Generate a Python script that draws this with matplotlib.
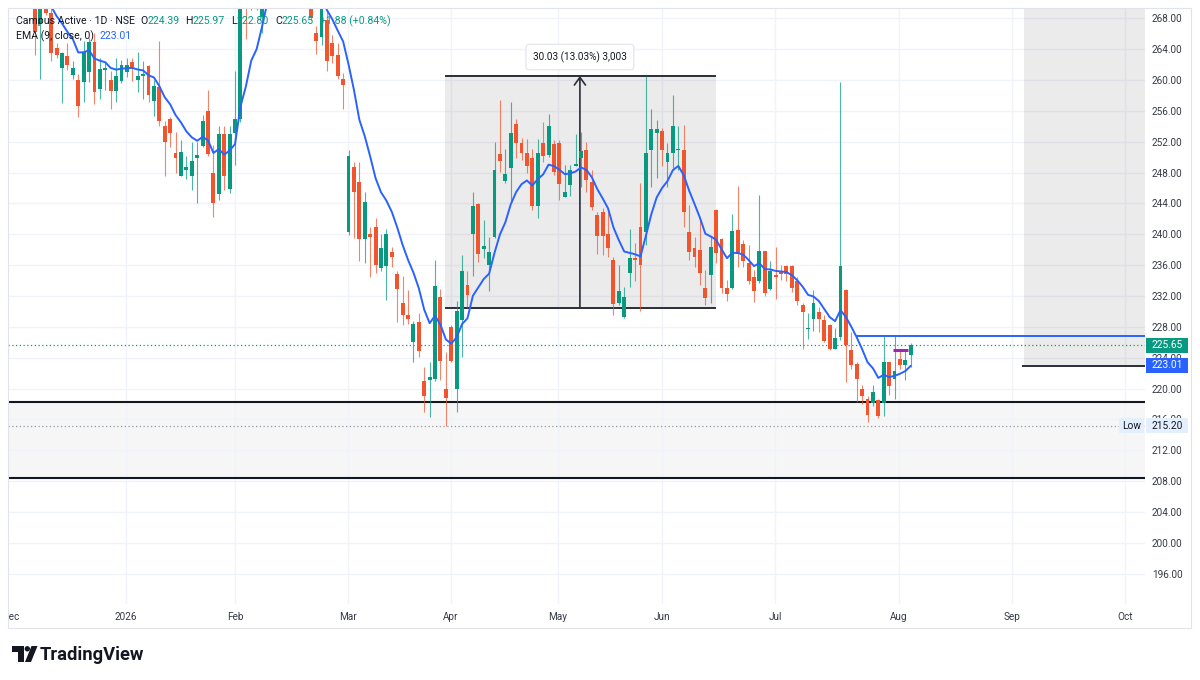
import matplotlib
matplotlib.use("Agg")
import matplotlib.pyplot as plt
import matplotlib.transforms as mtransforms
from matplotlib.patches import Rectangle, Polygon, Circle
import numpy as np
import pandas as pd

plt.rcParams['font.family'] = ['Roboto', 'DejaVu Sans']

# ---------------- data (daily OHLC, bar order) ----------------
n_hidden = 8  # earlier bars that sit above the visible window (seed the EMA)
opens = [273.0, 274.0, 275.0, 273.0, 274.0, 272.5, 273.5, 272.0,
         271.0, 267.3, 269.6, 268.7, 264.2, 261.5, 263.1, 260.7, 260.0, 259.7,
         261.0, 264.9, 258.8, 261.3, 260.0, 258.6, 259.9, 261.0, 262.3, 260.0,
         260.5, 261.8, 257.3, 259.1, 254.0, 254.9, 250.6, 247.6, 248.4, 247.6,
         249.9, 251.5, 256.0, 248.0, 245.2, 253.0, 245.9, 253.1, 254.9, 277.5,
         269.5, 276.0, 268.2, 279.0, 283.0, 281.0, 284.0, 280.0, 276.0, 273.0,
         271.5, 269.2, 266.1, 265.6, 267.8, 264.8, 263.3, 260.1, 240.3, 248.7,
         246.8, 239.4, 240.0, 241.0, 235.6, 235.9, 237.7, 234.9, 231.1, 229.5,
         226.0, 228.7, 221.0, 221.1, 221.3, 231.9, 219.9, 228.0, 219.9, 228.9,
         233.4, 240.0, 243.9, 238.1, 236.0, 239.7, 250.4, 246.9, 248.6, 254.3,
         251.9, 250.6, 249.9, 243.7, 251.9, 250.3, 251.7, 251.9, 244.9, 246.4,
         248.9, 249.9, 250.9, 246.8, 242.5, 242.9, 240.0, 236.7, 231.1, 229.3,
         235.0, 236.9, 240.9, 240.3, 250.9, 253.1, 253.4, 249.4, 250.6, 250.9,
         250.9, 240.3, 238.2, 238.0, 233.0, 234.7, 243.1, 239.4, 233.1, 233.1,
         240.6, 238.8, 236.3, 234.5, 233.9, 237.8, 232.9, 234.7, 235.2, 235.9,
         235.9, 234.0, 230.8, 227.7, 229.0, 229.9, 228.9, 228.3, 225.1, 226.7,
         232.8, 225.0, 223.2, 220.0, 218.7, 218.2, 218.5, 218.1, 223.5, 221.3,
         223.8, 223.0, 224.39]
highs = [275.5, 276.5, 276.0, 275.0, 274.5, 274.5, 274.0, 274.0,
         272.0, 272.0, 270.5, 269.6, 264.8, 263.6, 264.8, 262.5, 260.8, 265.0,
         265.4, 266.1, 262.8, 262.4, 261.2, 262.8, 262.6, 262.8, 262.8, 263.7,
         262.5, 262.0, 260.0, 265.1, 254.7, 255.2, 253.3, 252.2, 250.1, 252.0,
         252.0, 255.5, 258.7, 251.6, 254.0, 254.0, 254.0, 261.2, 277.5, 279.0,
         278.0, 278.0, 279.5, 285.0, 286.0, 287.0, 285.0, 281.5, 278.0, 275.0,
         273.0, 270.5, 267.0, 270.5, 269.1, 265.8, 264.8, 260.9, 250.9, 249.4,
         249.4, 245.5, 240.9, 242.1, 240.0, 240.7, 238.4, 235.2, 234.6, 232.8,
         228.8, 229.8, 222.8, 223.5, 236.7, 232.9, 224.8, 228.3, 231.4, 237.3,
         235.2, 245.5, 244.0, 241.9, 239.7, 252.0, 257.4, 251.1, 257.2, 254.9,
         252.5, 252.3, 251.1, 252.4, 254.6, 255.6, 252.2, 252.2, 249.0, 249.0,
         253.0, 253.3, 252.0, 248.3, 242.9, 243.4, 242.9, 237.0, 236.0, 233.2,
         240.7, 238.9, 246.7, 260.5, 256.2, 254.8, 253.8, 251.8, 258.1, 254.0,
         254.2, 243.8, 239.7, 241.9, 235.4, 239.7, 243.3, 239.5, 234.1, 242.7,
         246.3, 239.3, 238.6, 235.4, 245.1, 237.9, 236.5, 238.3, 236.0, 236.0,
         236.0, 234.5, 231.1, 229.8, 232.8, 230.6, 229.5, 228.4, 227.9, 259.7,
         232.9, 227.4, 223.5, 220.5, 219.0, 220.5, 218.6, 226.8, 223.5, 226.8,
         225.0, 225.0, 225.97]
lows = [272.0, 273.0, 272.0, 272.5, 271.5, 271.5, 271.0, 271.0,
        263.2, 260.1, 268.4, 262.5, 262.8, 257.0, 261.3, 260.1, 255.2, 257.2,
        259.8, 256.9, 257.5, 258.7, 256.2, 257.1, 259.6, 260.4, 259.9, 258.4,
        257.5, 257.1, 255.4, 254.0, 247.5, 251.3, 248.0, 247.5, 247.2, 245.7,
        244.0, 251.3, 250.2, 242.3, 244.5, 245.8, 245.3, 249.0, 254.5, 265.3,
        269.1, 269.1, 266.1, 278.0, 279.5, 280.0, 278.0, 275.0, 272.0, 271.0,
        270.6, 267.8, 263.4, 264.5, 261.2, 262.2, 260.1, 256.2, 239.9, 239.5,
        236.5, 236.3, 234.5, 235.0, 235.2, 231.5, 235.8, 228.6, 228.2, 228.4,
        223.5, 224.1, 217.0, 216.3, 221.0, 221.1, 215.2, 223.4, 217.0, 224.1,
        230.6, 234.6, 236.4, 236.9, 232.6, 239.5, 248.1, 246.6, 244.2, 249.9,
        249.6, 247.9, 243.2, 242.1, 249.4, 250.0, 247.7, 244.5, 244.8, 245.0,
        248.9, 246.2, 245.5, 243.2, 237.5, 237.3, 237.1, 229.5, 230.8, 229.2,
        233.2, 233.9, 230.1, 238.6, 246.2, 247.3, 248.8, 246.2, 248.6, 248.3,
        241.0, 236.7, 235.8, 233.4, 230.8, 231.1, 236.3, 232.4, 231.3, 232.9,
        235.8, 235.8, 233.5, 231.2, 233.7, 232.0, 232.8, 231.6, 234.1, 234.0,
        232.5, 230.8, 225.1, 226.4, 227.5, 227.4, 226.0, 225.0, 225.1, 226.3,
        220.9, 222.5, 218.3, 218.0, 215.7, 217.7, 216.2, 216.4, 219.2, 218.7,
        222.6, 221.1, 222.80]
closes = [274.0, 275.0, 273.0, 274.0, 272.5, 273.5, 272.0, 273.0,
          266.2, 270.8, 268.7, 263.5, 263.3, 263.5, 261.9, 261.5, 256.7, 263.7,
          264.9, 258.5, 261.4, 261.5, 258.6, 260.5, 261.9, 261.9, 261.7, 260.5,
          260.8, 258.1, 259.2, 254.7, 252.0, 253.2, 249.9, 250.7, 248.7, 249.5,
          250.3, 254.7, 250.4, 244.0, 253.0, 247.5, 253.0, 255.0, 276.0, 269.5,
          276.0, 270.0, 278.5, 283.0, 281.0, 284.0, 280.0, 276.0, 273.0, 271.5,
          270.8, 268.0, 265.1, 269.2, 262.5, 263.1, 260.5, 259.4, 250.1, 245.5,
          239.4, 244.2, 239.6, 236.0, 238.2, 240.0, 237.1, 232.9, 229.5, 229.0,
          228.4, 224.9, 219.1, 221.5, 233.3, 223.6, 218.8, 223.6, 230.0, 235.2,
          232.1, 243.7, 237.5, 238.5, 237.7, 248.4, 249.5, 247.8, 253.2, 251.9,
          250.6, 248.9, 243.7, 250.5, 250.2, 254.1, 248.1, 246.5, 245.5, 248.3,
          249.1, 250.8, 247.1, 243.6, 239.8, 239.8, 238.2, 231.0, 232.6, 231.9,
          236.9, 236.7, 236.0, 250.5, 253.7, 253.6, 250.9, 250.5, 254.0, 251.0,
          242.9, 237.7, 237.0, 235.0, 231.8, 238.3, 237.6, 233.1, 232.3, 240.4,
          237.5, 236.5, 233.9, 232.7, 237.8, 232.4, 235.3, 234.5, 234.9, 234.8,
          233.1, 231.4, 229.9, 227.9, 231.1, 229.0, 226.2, 225.1, 226.6, 235.9,
          225.7, 223.0, 221.2, 219.0, 216.6, 219.5, 216.4, 223.4, 220.3, 222.3,
          223.0, 223.7, 225.65]

month_labels = ['Dec', '2026', 'Feb', 'Mar', 'Apr', 'May', 'Jun', 'Jul', 'Aug', 'Sep', 'Oct']
month_pos = [-4.5, 16.83, 37.0, 57.9, 76.95, 96.7, 116.0, 136.9, 159.8, 180.7, 201.6]
price_ticks = list(range(196, 269, 4))

last_close = 225.65
ema_label_value = 223.01
low_value = 215.20
zone_top, zone_bottom = 218.3, 208.45
ray_level, ray_start = 226.86, 151.9
range_low, range_high = 230.50, 260.53
range_start, range_end, range_mid = 75.85, 126.0, 100.8
range_label = '30.03 (13.03%) 3,003'
range_label_y = 262.98
target_start, target_level = 182.9, 222.95
mark_level, mark_start, mark_end = 225.0, 158.7, 161.5

GREEN = '#089981'
RED = '#f2542d'
BLUE = '#2962ff'
DARK = '#131722'
AXTXT = '#363a45'
GRID = '#f0f3fa'
LINE = '#2a2e39'

# ---------------- figure ----------------
W, H = 1200, 680
fig = plt.figure(figsize=(W / 100, H / 100), dpi=100)
pl, pr, pt, pb = 8, 1145, 8, 604
ax = fig.add_axes([pl / W, 1 - pb / H, (pr - pl) / W, (pb - pt) / H])
XMIN, XMAX = -4.994, 205.33
ax.set_xlim(XMIN, XMAX)
ax.set_ylim(192.08, 269.34)
for s in ax.spines.values():
    s.set_visible(False)

# grid
for p in price_ticks:
    ax.axhline(p, color=GRID, lw=1.0, zorder=0.4)
for xp in month_pos[1:]:
    ax.axvline(xp, color=GRID, lw=1.0, zorder=0.4)

# ticks
ax.yaxis.tick_right()
ax.set_yticks(price_ticks)
ax.set_yticklabels([f'{p:.2f}' for p in price_ticks])
ax.tick_params(axis='y', length=0, pad=5, labelsize=7.2, labelcolor=AXTXT)
ax.set_xticks(month_pos[1:])
ax.set_xticklabels(month_labels[1:])
ax.tick_params(axis='x', length=0, pad=5.5, labelsize=7.2, labelcolor=AXTXT)
xlab_y = -13.0 / (pb - pt)
dec = ax.text(month_pos[0], xlab_y, month_labels[0],
              transform=mtransforms.blended_transform_factory(ax.transData, ax.transAxes),
              ha='center', va='center', fontsize=7.2, color=AXTXT)
dec.set_clip_box(mtransforms.TransformedBbox(mtransforms.Bbox.from_extents(pl / W, 0, 1, 1), fig.transFigure))
dec.set_clip_on(True)

# support zone
ax.axhspan(zone_bottom, zone_top, facecolor='#f6f6f6', lw=0, zorder=0.2)
ax.axhline(zone_top, color=DARK, lw=1.5, zorder=2)
ax.axhline(zone_bottom, color=DARK, lw=1.5, zorder=2)

# price range measure
ax.add_patch(Rectangle((range_start, range_low), range_end - range_start, range_high - range_low,
                       facecolor=(0.45, 0.45, 0.45, 0.14), lw=0, zorder=1))
ax.hlines([range_low, range_high], range_start, range_end, color=LINE, lw=1.4, zorder=2)
ax.annotate('', xy=(range_mid, range_high), xytext=(range_mid, range_low),
            arrowprops=dict(arrowstyle='->,head_length=0.55,head_width=0.4', color=LINE, lw=1.2,
                            shrinkA=0, shrinkB=0), zorder=2)
ax.text(range_mid, range_label_y, range_label, ha='center', va='center', fontsize=7.2, color=DARK, zorder=7,
        bbox=dict(boxstyle='round,pad=0.7,rounding_size=0.35', fc='white', ec='#e0e3eb', lw=0.8))

# right projection box
ax.add_patch(Rectangle((target_start, target_level), XMAX - target_start + 2, 60,
                       facecolor=(0.45, 0.45, 0.45, 0.14), lw=0, zorder=1))
ax.hlines(target_level, target_start - 0.3, XMAX + 1, color=LINE, lw=1.4, zorder=2)

# ray, marker, price lines
ax.hlines(ray_level, ray_start, XMAX + 1, color=BLUE, lw=1.4, zorder=2.5)
ax.axhline(last_close, color=GREEN, lw=0.9, ls=(0, (1, 2)), zorder=2.4)
ax.axhline(low_value, color='#9598a1', lw=0.9, ls=(0, (1, 2)), zorder=2.4)

# candles
o = np.array(opens); h = np.array(highs); l = np.array(lows); c = np.array(closes)
x = np.arange(len(o)) - n_hidden
col = np.where(c >= o, GREEN, RED)
ax.vlines(x, l, h, colors=col, lw=0.8, alpha=0.72, zorder=3)
body_lo = np.minimum(o, c)
body_h = np.maximum(np.abs(c - o), 0.13)
ax.bar(x, body_h, bottom=body_lo, width=0.72, color=col, lw=0, zorder=3.5)

ax.hlines(mark_level, mark_start, mark_end, color='#9c27b0', lw=2.2, zorder=5)

# EMA 9
ema = pd.Series(c).ewm(span=9, adjust=False).mean().values
ax.plot(x, ema, color=BLUE, lw=1.4, zorder=4, solid_capstyle='round')

# ---------------- overlay (frame, tags, legend, logo) ----------------
fig.canvas.draw()
def ypix(p):
    return H - ax.transData.transform((0, p))[1]

ov = fig.add_axes([0, 0, 1, 1])
ov.set_xlim(0, W); ov.set_ylim(H, 0); ov.axis('off'); ov.patch.set_alpha(0)

fc = '#e0e3eb'
ov.plot([pl, 1191], [pt, pt], color=fc, lw=0.8)
ov.plot([pl, 1191], [628, 628], color=fc, lw=0.8)
ov.plot([pl, pl], [pt, 628], color=fc, lw=0.8)
ov.plot([1191, 1191], [pt, 628], color=fc, lw=0.8)

def tag(p, text, bg, fg):
    yy = ypix(p)
    ov.add_patch(Rectangle((1146, yy - 7.5), 42, 15, facecolor=bg, lw=0, zorder=5))
    ov.text(1167, yy, text, ha='center', va='center', fontsize=7.3, color=fg, zorder=6)

tag(last_close, f'{last_close:.2f}', GREEN, 'white')
tag(ema_label_value, f'{ema_label_value:.2f}', BLUE, 'white')
tag(low_value, f'{low_value:.2f}', '#e3effd', DARK)
yl = ypix(low_value)
ov.add_patch(Rectangle((1119, yl - 7.5), 25, 15, facecolor='#e3effd', lw=0, zorder=5))
ov.text(1131.5, yl, 'Low', ha='center', va='center', fontsize=7.3, color=DARK, zorder=6)

renderer = fig.canvas.get_renderer()
def chunks(x0, y0, parts, size=7.6):
    xx = x0
    for txt, color, gap in parts:
        xx += gap
        t = ov.text(xx, y0, txt, ha='left', va='center', fontsize=size, color=color, zorder=6)
        bb = t.get_window_extent(renderer=renderer)
        xx += bb.width

chunks(16, 21, [('Campus Active · 1D · NSE', DARK, 0),
                ('O', DARK, 5), ('224.39', GREEN, 0),
                ('H', DARK, 6), ('225.97', GREEN, 0),
                ('L', DARK, 6), ('222.80', GREEN, 0),
                ('C', DARK, 6), ('225.65', GREEN, 0),
                ('+1.88 (+0.84%)', GREEN, 6)])
chunks(16, 36, [('EMA (9, close, 0)', DARK, 0), ('223.01', BLUE, 6)])

# TradingView logo
ov.add_patch(Polygon([(12, 646), (23.5, 646), (23.5, 662), (18, 662), (18, 651.5), (12, 651.5)],
                     closed=True, facecolor=DARK, lw=0))
ov.add_patch(Circle((27.3, 648.8), 2.7, facecolor=DARK, lw=0))
ov.add_patch(Polygon([(31.5, 646), (37.5, 646), (31, 662), (25, 662)], closed=True, facecolor=DARK, lw=0))
ov.text(40, 654.5, 'TradingView', ha='left', va='center', fontsize=13.2, fontweight='bold', color=DARK)

fig.savefig('out.png', dpi=100)
